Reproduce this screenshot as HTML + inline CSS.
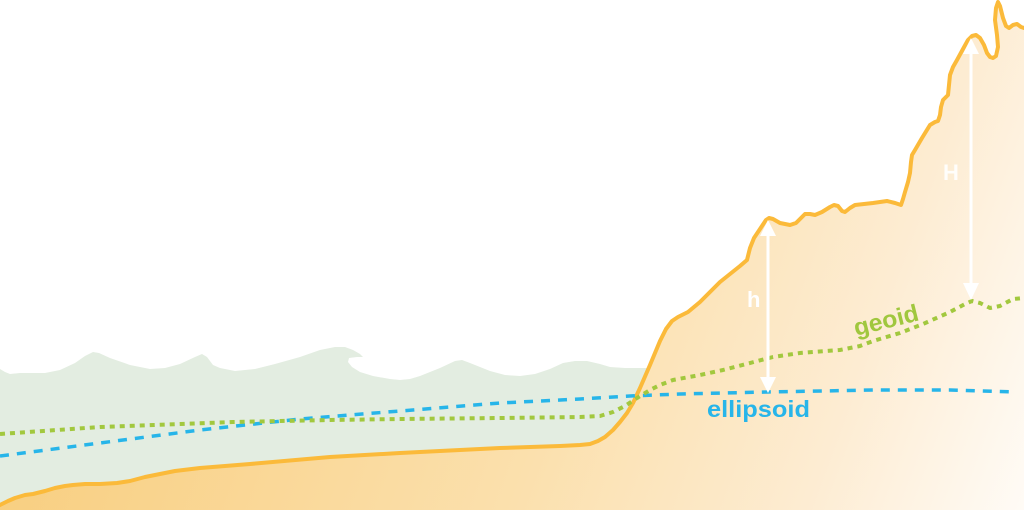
<!DOCTYPE html>
<html>
<head>
<meta charset="utf-8">
<style>
  html,body{margin:0;padding:0;background:#ffffff;}
  body{width:1024px;height:510px;overflow:hidden;}
  svg{display:block;}
  text{font-family:"Liberation Sans",Arial,sans-serif;font-weight:bold;}
</style>
</head>
<body>
<svg width="1024" height="510" viewBox="0 0 1024 510" xmlns="http://www.w3.org/2000/svg">
  <defs>
    <linearGradient id="gfill" gradientUnits="userSpaceOnUse" x1="0" y1="320" x2="1024" y2="700">
      <stop offset="0" stop-color="#f8cd7c"/>
      <stop offset="0.5" stop-color="#fbe0ad"/>
      <stop offset="0.75" stop-color="#fdecd2"/>
      <stop offset="0.95" stop-color="#fffcf8"/>
      <stop offset="1" stop-color="#ffffff"/>
    </linearGradient>
  </defs>

  <!-- water -->
  <path fill="#e3ede1" d="M0,369 L5,372 L10,374 L20,373 L45,373 L60,370 L75,363 L85,356 L93,352 L99,353 L110,358 L130,365 L150,369 L165,368 L180,364 L195,357 L202,354 L207,357 L213,365 L220,368 L235,371 L255,369 L275,364 L300,357 L320,350 L335,347 L345,347 L353,350 L360,354 L363,357 L357,357 L349,358 L348,362 L352,367 L360,372 L373,376 L390,379 L400,380 L410,379 L420,376 L440,368 L455,361 L462,360 L470,363 L490,371 L505,375 L520,376 L535,374 L550,369 L563,363 L575,361 L587,361 L600,364 L610,367 L625,368 L660,368 L660,510 L0,510 Z"/>

  <!-- ground fill -->
  <path fill="url(#gfill)" d="M0,505 L8,501 L15,498 L25,495 L33,494 L45,491 L55,488 L65,486 L73,485 L85,484 L100,484 L117,483 L130,481 L145,477 L160,474 L175,471 L200,468 L250,464 L330,457 L400,453 L500,448 L560,446 L580,445 L590,444 L598,441 L605,437 L613,430 L620,422 L627,413 L633,403 L640,388 L650,365 L660,341 L666,329 L672,321 L678,317 L688,312 L700,302 L720,282 L740,266 L747,260 L750,248 L754,238 L760,229 L766,220 L769,218 L773,219 L780,223 L790,225 L796,223 L801,218 L805,214 L810,214 L815,215 L822,212 L830,207 L834,205 L838,206 L842,211 L845,212 L850,208 L855,205 L873,203 L887,201 L895,203 L901,205 L903,199 L905,192 L908,182 L910,173 L911,162 L912,155 L915,150 L922,138 L930,125 L935,122 L938,121 L940,115 L941,107 L943,100 L946,97 L948,95 L949,85 L950,75 L953,67 L957,60 L963,49 L968,40 L972,36 L976,35 L980,38 L984,45 L987,53 L990,57 L993,58 L996,56 L998,47 L997,35 L995,20 L996,8 L998,2 L1000,6 L1003,18 L1006,26 L1009,28 L1013,25 L1017,24 L1021,27 L1024,28 L1024,510 L0,510 Z"/>

  <!-- ground line -->
  <polyline fill="none" stroke="#fbba3a" stroke-width="4" stroke-linejoin="round" stroke-linecap="round"
    points="0,505 8,501 15,498 25,495 33,494 45,491 55,488 65,486 73,485 85,484 100,484 117,483 130,481 145,477 160,474 175,471 200,468 250,464 330,457 400,453 500,448 560,446 580,445 590,444 598,441 605,437 613,430 620,422 627,413 633,403 640,388 650,365 660,341 666,329 672,321 678,317 688,312 700,302 720,282 740,266 747,260 750,248 754,238 760,229 766,220 769,218 773,219 780,223 790,225 796,223 801,218 805,214 810,214 815,215 822,212 830,207 834,205 838,206 842,211 845,212 850,208 855,205 873,203 887,201 895,203 901,205 903,199 905,192 908,182 910,173 911,162 912,155 915,150 922,138 930,125 935,122 938,121 940,115 941,107 943,100 946,97 948,95 949,85 950,75 953,67 957,60 963,49 968,40 972,36 976,35 980,38 984,45 987,53 990,57 993,58 996,56 998,47 997,35 995,20 996,8 998,2 1000,6 1003,18 1006,26 1009,28 1013,25 1017,24 1021,27 1024,28"/>

  <!-- ellipsoid (blue dashed) -->
  <polyline fill="none" stroke="#27b5e9" stroke-width="3.5" stroke-dasharray="9 8" stroke-linejoin="round"
    points="0,456 100,443 200,430 300,419 400,411 500,403 580,399 630,396 680,394 767,392 873,390 950,390 1015,392"/>

  <!-- geoid (green dotted) -->
  <polyline fill="none" stroke="#a2c83e" stroke-width="4" stroke-dasharray="5 5" stroke-linejoin="round"
    points="0,434 100,427 233,422 330,420 400,419 500,418 580,417 600,416 613,412 625,406 637,398 650,390 660,385 673,380 700,375 723,370 773,357 800,353 840,350 860,346 873,341 900,333 923,324 950,312 965,304 972,301 980,303 990,308 1000,306 1013,299 1024,298"/>

  <!-- h arrow -->
  <line x1="768" y1="232" x2="768" y2="382" stroke="#ffffff" stroke-width="3"/>
  <polygon points="768,220 760,236 776,236" fill="#ffffff"/>
  <polygon points="768,393 760,377 776,377" fill="#ffffff"/>

  <!-- H arrow -->
  <line x1="971" y1="50" x2="971" y2="288" stroke="#ffffff" stroke-width="3"/>
  <polygon points="971,38 963,54 979,54" fill="#ffffff"/>
  <polygon points="971,300 963,283 979,283" fill="#ffffff"/>

  <!-- labels -->
  <text x="747" y="307" font-size="22" fill="#ffffff">h</text>
  <text x="943" y="180" font-size="22" fill="#ffffff" fill-opacity="0.9">H</text>
  <text transform="translate(856,336) rotate(-14)" font-size="24" fill="#a0c73e" textLength="66" lengthAdjust="spacingAndGlyphs">geoid</text>
  <text x="707" y="417" font-size="23" fill="#27b5e9" textLength="103" lengthAdjust="spacingAndGlyphs">ellipsoid</text>
</svg>
</body>
</html>
